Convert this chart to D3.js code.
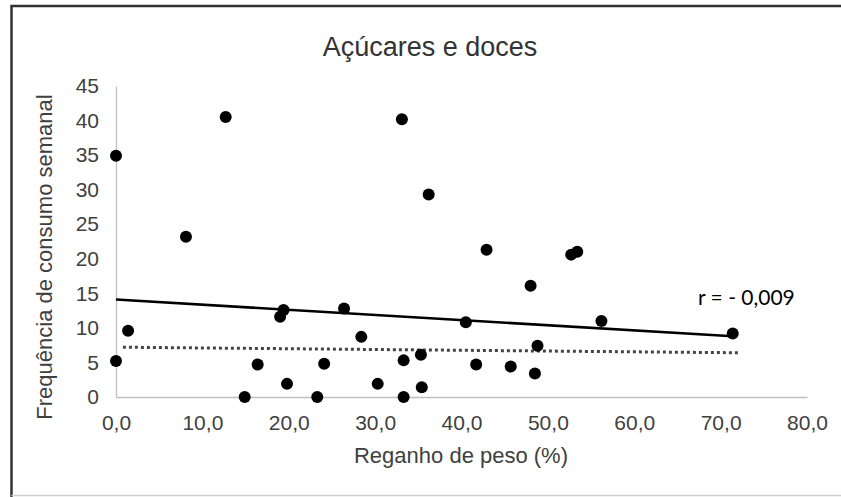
<!DOCTYPE html>
<html>
<head>
<meta charset="utf-8">
<script src="https://cdn.jsdelivr.net/npm/d3@7"></script>
<style>
  html, body { margin: 0; padding: 0; background: #fff; }
  svg { display: block; }
</style>
</head>
<body>
<svg id="chart" width="841" height="497"></svg>
<script>
// Reganho de peso (%) vs. frequência semanal de consumo de açúcares e doces
const regainPct = [0.0, 0.0, 1.4, 8.1, 12.7, 14.9, 16.4, 19.8, 19.0, 19.4,
                   23.3, 24.1, 26.4, 28.4, 30.3, 33.3, 33.3, 35.4, 35.3, 33.1,
                   36.2, 42.9, 40.5, 41.7, 45.7, 48.0, 48.8, 48.5, 52.7, 53.4,
                   56.2, 71.4];
const weeklyFreq = [34.9, 5.2, 9.6, 23.2, 40.5, 0.0, 4.7, 1.9, 11.6, 12.6,
                    0.0, 4.8, 12.8, 8.7, 1.9, 5.3, 0.0, 1.4, 6.1, 40.2,
                    29.3, 21.3, 10.8, 4.7, 4.4, 16.1, 7.4, 3.4, 20.6, 21.0,
                    11.0, 9.2];

// linear trend (solid) and reference level (dotted)
const trendX = [0.0, 71.4];
const trendY = [14.1, 8.8];
const refX = [0.8, 72.2];
const refY = [7.2, 6.4];

const xTicks = [0, 10, 20, 30, 40, 50, 60, 70, 80];
const yTicks = [0, 5, 10, 15, 20, 25, 30, 35, 40, 45];

const titleText = "Açúcares e doces";
const xTitle = "Reganho de peso (%)";
const yTitle = "Frequência de consumo semanal";
const rLabel = "r = - 0,009";

const svg = d3.select("#chart");
const textColor = "#404040";
const font = "'Liberation Sans', Arial, sans-serif";

// frame
svg.append("path")
  .attr("d", "M11.5,497 L11.5,6 L841,6")
  .attr("fill", "none").attr("stroke", "#333").attr("stroke-width", 2.5);
svg.append("line")
  .attr("x1", 11.5).attr("x2", 841).attr("y1", 495.5).attr("y2", 495.5)
  .attr("stroke", "#cfcfcf").attr("stroke-width", 1.5);

const x = d3.scaleLinear().domain([0, 80]).range([116, 807]);
const y = d3.scaleLinear().domain([0, 45]).range([397, 86]);

const fmt = v => d3.format(".1f")(v).replace(".", ",");

const xAxis = svg.append("g")
  .attr("transform", `translate(0,${y(0)})`)
  .call(d3.axisBottom(x).tickValues(xTicks).tickFormat(fmt).tickSize(0).tickPadding(18));
const yAxis = svg.append("g")
  .attr("transform", `translate(${x(0)},0)`)
  .call(d3.axisLeft(y).tickValues(yTicks).tickFormat(d3.format("d")).tickSize(0).tickPadding(17));

[xAxis, yAxis].forEach(g => {
  g.select(".domain").attr("stroke", "#bfbfbf").attr("stroke-width", 1.3);
  g.selectAll("text")
    .attr("fill", textColor)
    .style("font-family", font)
    .style("font-size", "21px");
});

// dotted reference line
svg.append("path")
  .datum(d3.zip(refX, refY))
  .attr("d", d3.line().x(d => x(d[0])).y(d => y(d[1])))
  .attr("fill", "none").attr("stroke", "#444")
  .attr("stroke-width", 3).attr("stroke-dasharray", "3,3");

// trend line
svg.append("path")
  .datum(d3.zip(trendX, trendY))
  .attr("d", d3.line().x(d => x(d[0])).y(d => y(d[1])))
  .attr("fill", "none").attr("stroke", "#000").attr("stroke-width", 2.6);

// points
svg.append("g").selectAll("circle")
  .data(d3.zip(regainPct, weeklyFreq))
  .join("circle")
  .attr("cx", d => x(d[0]))
  .attr("cy", d => y(d[1]))
  .attr("r", 6)
  .attr("fill", "#000");

// titles
svg.append("text")
  .attr("x", 430).attr("y", 56)
  .attr("text-anchor", "middle")
  .attr("fill", "#333")
  .style("font-family", font).style("font-size", "27px")
  .text(titleText);

svg.append("text")
  .attr("x", 461).attr("y", 463)
  .attr("text-anchor", "middle")
  .attr("fill", textColor)
  .style("font-family", font).style("font-size", "22px")
  .text(xTitle);

svg.append("text")
  .attr("transform", "translate(52,257) rotate(-90)")
  .attr("text-anchor", "middle")
  .attr("fill", textColor)
  .style("font-family", font).style("font-size", "22px")
  .text(yTitle);

svg.append("text")
  .attr("x", 698).attr("y", 305)
  .attr("fill", "#000")
  .style("font-family", "Lato, 'Open Sans', sans-serif").style("font-size", "21px")
  .text(rLabel);
</script>
</body>
</html>
